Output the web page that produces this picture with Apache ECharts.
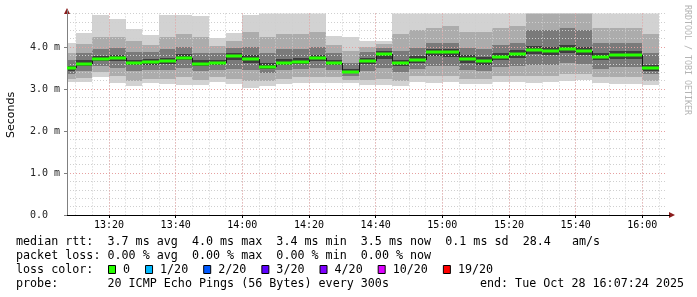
<!DOCTYPE html>
<html><head><meta charset="utf-8">
<script src="https://cdn.jsdelivr.net/npm/echarts@6/dist/echarts.min.js"></script>
<style>html,body{margin:0;padding:0;background:#fff}#c{width:697px;height:297px}</style>
</head><body><div id="c"></div>
<script>
// ---- data ----
const viewStart = '13:07:24';
const viewEnd = '16:07:24';
const stepMinutes = 5;
const barStart = ['13:05','13:10','13:15','13:20','13:25','13:30','13:35','13:40','13:45','13:50','13:55','14:00',
  '14:05','14:10','14:15','14:20','14:25','14:30','14:35','14:40','14:45','14:50','14:55','15:00',
  '15:05','15:10','15:15','15:20','15:25','15:30','15:35','15:40','15:45','15:50','15:55','16:00'];
const rttMedian = [3.49,3.60,3.71,3.73,3.62,3.64,3.66,3.75,3.59,3.62,3.79,3.71,3.53,3.63,3.65,3.74,3.63,3.41,3.67,3.83,3.61,3.69,3.89,3.87,3.71,3.67,3.77,3.83,3.94,3.91,3.95,3.91,3.77,3.81,3.81,3.50];
const rttMin = [3.17,3.17,3.29,3.14,3.06,3.15,3.12,3.10,3.10,3.17,3.12,3.02,3.06,3.12,3.14,3.14,3.15,3.15,3.10,3.10,3.06,3.17,3.15,3.17,3.12,3.12,3.17,3.17,3.15,3.17,3.20,3.21,3.14,3.12,3.12,3.10];
const rttP10 = [3.25,3.26,3.40,3.30,3.20,3.25,3.25,3.28,3.22,3.28,3.25,3.20,3.20,3.25,3.28,3.28,3.28,3.22,3.22,3.25,3.20,3.30,3.30,3.32,3.25,3.25,3.30,3.32,3.30,3.32,3.35,3.35,3.28,3.28,3.28,3.20];
const rttP25 = [3.35,3.42,3.55,3.50,3.42,3.45,3.45,3.50,3.42,3.45,3.48,3.45,3.38,3.45,3.48,3.50,3.45,3.30,3.42,3.50,3.40,3.48,3.55,3.55,3.45,3.42,3.52,3.55,3.58,3.58,3.62,3.60,3.48,3.52,3.52,3.35];
const rttP40 = [3.44,3.54,3.66,3.66,3.56,3.58,3.60,3.68,3.54,3.56,3.70,3.62,3.48,3.57,3.59,3.66,3.56,3.37,3.60,3.72,3.54,3.62,3.78,3.76,3.62,3.58,3.68,3.74,3.84,3.80,3.85,3.80,3.68,3.72,3.72,3.44];
const rttP60 = [3.55,3.68,3.78,3.80,3.70,3.72,3.75,3.84,3.68,3.70,3.85,3.80,3.62,3.72,3.74,3.82,3.70,3.47,3.75,3.90,3.70,3.78,3.95,3.95,3.80,3.76,3.85,3.92,4.02,4.00,4.05,4.00,3.86,3.90,3.90,3.58];
const rttP75 = [3.68,3.85,3.95,3.98,3.88,3.88,3.95,4.00,3.85,3.85,3.98,4.00,3.85,3.95,3.95,4.00,3.85,3.62,3.88,3.98,3.90,3.98,4.10,4.10,3.98,3.95,4.05,4.10,4.40,4.40,4.45,4.40,4.10,4.10,4.10,3.85];
const rttP90 = [3.85,4.08,4.25,4.25,4.15,4.05,4.25,4.30,4.25,4.02,4.15,4.35,4.25,4.30,4.30,4.35,4.05,3.90,4.00,4.08,4.30,4.40,4.45,4.50,4.35,4.35,4.45,4.50,4.90,4.90,4.90,4.90,4.45,4.45,4.45,4.30];
const rttMax = [4.10,4.33,4.77,4.67,4.43,4.29,4.77,4.77,4.74,4.22,4.34,4.77,5.0,5.0,5.0,5.0,4.26,4.23,4.15,4.15,5.0,5.0,5.0,5.0,5.0,5.0,5.0,5.0,5.0,5.0,5.0,5.0,5.0,5.0,5.0,5.0];
const xTickLabels = ['13:20','13:40','14:00','14:20','14:40','15:00','15:20','15:40','16:00'];
const yTickValues = [0,1,2,3,4];
const yMax = 4.8;
const statsLines = [
  'median rtt:  3.7 ms avg  4.0 ms max  3.4 ms min  3.5 ms now  0.1 ms sd  28.4   am/s',
  'packet loss: 0.00 % avg  0.00 % max  0.00 % min  0.00 % now'
];
const lossLabels = ['0','1/20','2/20','3/20','4/20','10/20','19/20'];
const lossColors = ['#26ff00','#00b8ff','#0059ff','#5e00ff','#7e00ff','#dd00ff','#ff0000'];
const probeText = 'probe:       20 ICMP Echo Pings (56 Bytes) every 300s';
const endText = 'end: Tue Oct 28 16:07:24 2025';

// ---- helpers ----
function tm(s){const p=s.split(':').map(Number);return p[0]*60+p[1]+(p[2]||0)/60;}
const xMin = tm(viewStart), xMax = tm(viewEnd);
const xMajor = xTickLabels.map(tm);
const xMinor = barStart.map(tm).concat([tm(barStart[barStart.length-1]) + stepMinutes]);
const MONO = 'DejaVu Sans Mono';

const smokeData = barStart.map((s,i)=>[tm(s), tm(s)+stepMinutes, rttMin[i], rttP10[i], rttP25[i], rttP40[i], rttP60[i], rttP75[i], rttP90[i], rttMax[i]]);
const medianData = barStart.map((s,i)=>[tm(s), tm(s)+stepMinutes, rttMedian[i], i===0 ? rttMedian[0] : rttMedian[i-1]]);

const bandDefs = [[2,9,'#d2d2d2'],[3,8,'#acacac'],[4,7,'#7a7a7a'],[5,6,'#3e3e3e']];
function renderSmoke(params, api){
  const x0=api.value(0), x1=api.value(1);
  const children = bandDefs.map(function(b){
    const a=api.coord([x0, api.value(b[1])]), c=api.coord([x1, api.value(b[0])]);
    const l=Math.round(a[0]), r=Math.round(c[0]), t=Math.round(a[1]), bt=Math.round(c[1]);
    return {type:'rect', shape:{x:l,y:t,width:r-l,height:bt-t}, style:{fill:b[2]}};
  });
  return {type:'group', children:children};
}
function renderMedian(params, api){
  const x0=api.value(0), x1=api.value(1), m=api.value(2), pm=api.value(3);
  const a=api.coord([x0,m]), b=api.coord([x1,m]), p=api.coord([x0,pm]);
  const l=Math.round(a[0]), r=Math.round(b[0]), y=Math.round(a[1]);
  return {type:'group', children:[
    {type:'line', shape:{x1:l+0.5, y1:Math.round(p[1]), x2:l+0.5, y2:y}, style:{stroke:'#1a1a1a', lineWidth:1}},
    {type:'rect', shape:{x:l, y:y-1.5, width:r-l, height:3}, style:{fill:lossColors[0]}}
  ]};
}

// legend graphics
const graphics = [];
const rowY = [241.5, 255.5, 269.5, 283.5];
graphics.push({type:'text', x:16, y:rowY[0], style:{text:statsLines[0], font:'11.7px "'+MONO+'"', fill:'#000', verticalAlign:'middle'}});
graphics.push({type:'text', x:16, y:rowY[1], style:{text:statsLines[1], font:'11.7px "'+MONO+'"', fill:'#000', verticalAlign:'middle'}});
graphics.push({type:'text', x:16, y:rowY[2], style:{text:'loss color:', font:'11.7px "'+MONO+'"', fill:'#000', verticalAlign:'middle'}});
let lx = 108;
lossLabels.forEach(function(lab,i){
  graphics.push({type:'rect', shape:{x:lx+0.5, y:265.5, width:7, height:8}, style:{fill:lossColors[i], stroke:'#000', lineWidth:1}});
  graphics.push({type:'text', x:lx+15, y:rowY[2], style:{text:lab, font:'11.7px "'+MONO+'"', fill:'#000', verticalAlign:'middle'}});
  lx += 15 + lab.length*7.04 + 15;
});
graphics.push({type:'text', x:16, y:rowY[3], style:{text:probeText, font:'11.7px "'+MONO+'"', fill:'#000', verticalAlign:'middle'}});
graphics.push({type:'text', x:684, y:rowY[3], style:{text:endText, font:'11.7px "'+MONO+'"', fill:'#000', align:'right', verticalAlign:'middle'}});
graphics.push({type:'text', x:11, y:115, rotation:Math.PI/2, style:{text:'Seconds', font:'11px "DejaVu Sans"', fill:'#000', align:'center', verticalAlign:'middle'}});
graphics.push({type:'text', x:687, y:60, rotation:-Math.PI/2, style:{text:'RRDTOOL / TOBI OETIKER', font:'8.3px "'+MONO+'"', fill:'#b4b4b4', align:'center', verticalAlign:'middle'}});
// axis arrows
graphics.push({type:'polygon', z:10, shape:{points:[[67,8],[64,14],[70,14]]}, style:{fill:'#8b1c1c'}});
graphics.push({type:'polygon', z:10, shape:{points:[[675,215],[669,212],[669,218]]}, style:{fill:'#8b1c1c'}});
graphics.push({type:'line', z:10, shape:{x1:667,y1:215.5,x2:670,y2:215.5}, style:{stroke:'#000',lineWidth:1}});
graphics.push({type:'line', z:10, shape:{x1:67.5,y1:10,x2:67.5,y2:14}, style:{stroke:'#808080',lineWidth:1}});

const chart = echarts.init(document.getElementById('c'), null, {renderer:'canvas'});
chart.setOption({
  animation:false,
  backgroundColor:'#fff',
  grid:{left:67, right:30, top:13.4, bottom:82, containLabel:false},
  xAxis:[
    {type:'value', min:xMin, max:xMax, z:3, position:'bottom',
      axisLine:{show:true, onZero:false, lineStyle:{color:'#000', width:1}},
      axisTick:{show:true, customValues:xMajor, length:3, lineStyle:{color:'#000'}},
      axisLabel:{customValues:xMajor, margin:5, fontFamily:MONO, fontSize:10, color:'#000',
        formatter:function(v){const i=xMajor.findIndex(function(t){return Math.abs(t-v)<0.01;});return i>=0?xTickLabels[i]:'';}},
      splitLine:{show:true, lineStyle:{color:'#e6a0a0', width:1, type:[1,2]}}},
    {type:'value', min:xMin, max:xMax, z:2, position:'bottom',
      axisLine:{show:false}, axisTick:{show:false, customValues:xMinor}, axisLabel:{show:false, customValues:xMinor},
      splitLine:{show:true, lineStyle:{color:'#cfcfcf', width:1, type:[1,2]}}}
  ],
  yAxis:[
    {type:'value', min:0, max:yMax, z:3, position:'left',
      axisLine:{show:true, onZero:false, lineStyle:{color:'#808080', width:1}},
      axisTick:{show:true, customValues:yTickValues, length:3, lineStyle:{color:'#808080'}},
      axisLabel:{customValues:yTickValues, margin:7, fontFamily:MONO, fontSize:10, color:'#222',
        formatter:function(v){return v===0?'0.0  ':v.toFixed(1)+' m';}},
      splitLine:{show:true, lineStyle:{color:'#e6a0a0', width:1, type:[1,2]}}},
    {type:'value', min:0, max:yMax, interval:0.2, z:2, position:'left',
      axisLine:{show:false}, axisTick:{show:false}, axisLabel:{show:false},
      splitLine:{show:true, lineStyle:{color:'#cfcfcf', width:1, type:[1,2]}}}
  ],
  series:[
    {type:'custom', name:'smoke', xAxisIndex:0, yAxisIndex:0, z:1, clip:true, renderItem:renderSmoke,
      encode:{x:[0,1], y:[2,9]}, data:smokeData},
    {type:'custom', name:'median', xAxisIndex:0, yAxisIndex:0, z:5, clip:true, renderItem:renderMedian,
      encode:{x:[0,1], y:[2,3]}, data:medianData}
  ],
  graphic:graphics
});
</script>
</body></html>
